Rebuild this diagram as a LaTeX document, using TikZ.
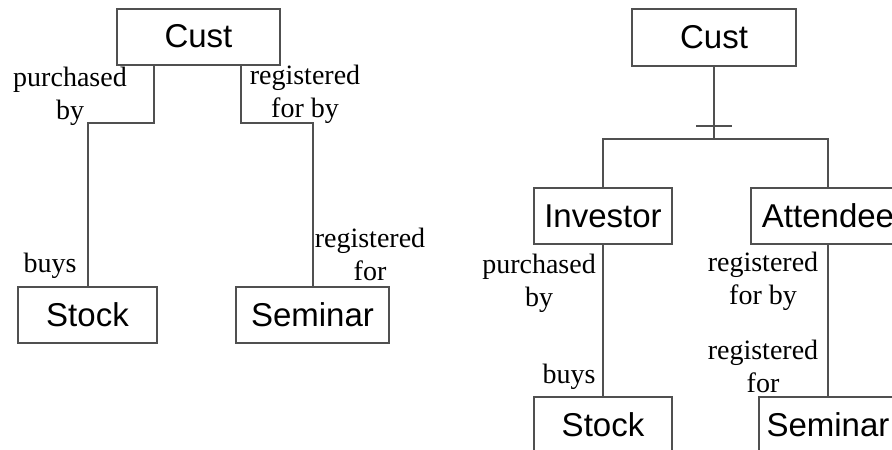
\documentclass[tikz,border=0pt]{standalone}
\usepackage{fontspec}
\setmainfont{Liberation Serif}
\setsansfont{Liberation Sans}
\usepackage{tikz}
\definecolor{linegray}{HTML}{505050}

\begin{document}
\begin{tikzpicture}[x=1pt,y=-1pt,
      box/.style={draw=linegray,line width=2pt,inner sep=0pt,
        minimum height=56pt,font=\sffamily\fontsize{33}{40}\selectfont},
      lbl/.style={align=center,inner sep=0pt,font=\fontsize{28}{33}\selectfont},
      link/.style={draw=linegray,line width=2pt}]
    \useasboundingbox (0,0) rectangle (892,450);
    % left: two plain relations
    \node[box,minimum width=163pt] (lcust) at (198.5,36.5) {Cust};
    \node[box,minimum width=139pt] (lstock) at (87.5,314.5) {Stock};
    \node[box,minimum width=153pt] (lsem) at (312.5,314.5) {Seminar};
    \draw[link] ([xshift=38pt]lcust.south west) -- ++(0,57) -| (lstock);
    \draw[link] ([xshift=-40pt]lcust.south east) -- ++(0,57) -| (lsem);
    \node[lbl] (lpb) at (70,96) {purchased\\by};
    \node[lbl] (lrfb) at (305,94) {registered\\for by};
    \node[lbl] (lbuys) at (50,266) {buys};
    \node[lbl] (lrf) at (370,254) {registered\\for};
    % right: subtypes
    \node[box,minimum width=164pt,minimum height=57pt] (rcust) at (714,37.5) {Cust};
    \node[box,minimum width=138pt] (inv) at (603,216) {Investor};
    \node[box,minimum width=154pt] (att) at (828,216) {Attendee};
    \node[box,minimum width=138pt] (rstock) at (603,425) {Stock};
    \node[box,minimum width=138pt] (rsem) at (828,425) {Seminar};
    \coordinate (split) at (714,139);
    \draw[link] (rcust) -- (split);
    \draw[link] (rcust.south) ++(-18,59) -- ++(36,0);
    \draw[link] (inv) |- (split) -| (att);
    \draw[link] (inv) -- (rstock);
    \draw[link] (att) -- (rsem);
    \node[lbl] (rpb) at (539,283) {purchased\\by};
    \node[lbl] (rbuys) at (569,377) {buys};
    \node[lbl] (rrfb) at (763,281) {registered\\for by};
    \node[lbl] (rrf) at (763,366) {registered\\for};
  \end{tikzpicture}
\end{document}
